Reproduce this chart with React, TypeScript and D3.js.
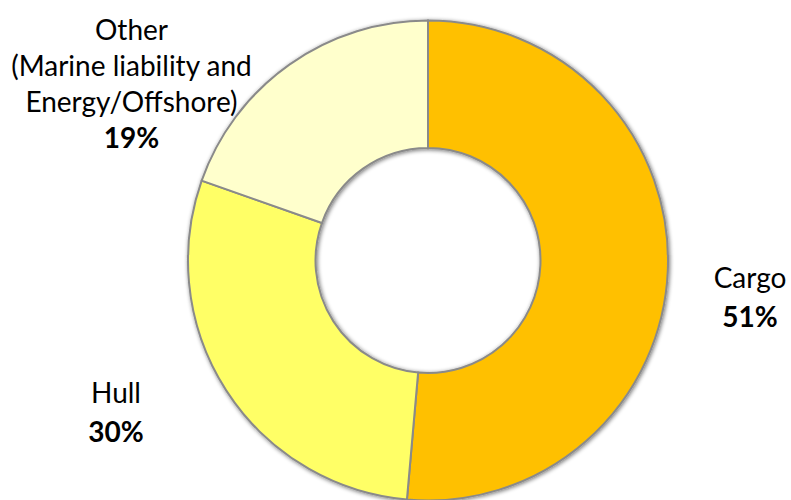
import React from "react";
import * as d3 from "d3";

const categories = ["Cargo", "Hull", "Other"];
const values = [51.4, 29.0, 19.6];
const percentLabels = ["51%", "30%", "19%"];
const nameLines = [["Cargo"], ["Hull"], ["Other", "(Marine liability and", "Energy/Offshore)"]];
const colors = ["#FFC000", "#FFFF66", "#FFFFCC"];

const W = 791;
const H = 500;
const cx = 428;
const cy = 260.5;
const outerR = 240;
const innerR = 112.5;

// label anchor (center x, baseline of first line, line spacing)
const labelLayout = [
  { x: 750, y: 288, dy: 39 },
  { x: 116, y: 403, dy: 39 },
  { x: 131.5, y: 40, dy: 36 },
];

export default function App() {
  const data = categories.map((c, i) => ({ c, v: values[i], i }));
  const pie = d3.pie<any>().value((d) => d.v).sort(null).startAngle(0).endAngle(2 * Math.PI);
  const arcs = pie(data);
  const arc = d3.arc<any>().innerRadius(innerR).outerRadius(outerR);
  const font = "Lato, 'Open Sans', sans-serif";
  return (
    <svg width={W} height={H} style={{ position: "absolute", left: 0, top: 0, background: "#fff" }}>
      <defs>
        <filter id="sh" x="-20%" y="-20%" width="140%" height="140%">
          <feGaussianBlur in="SourceAlpha" stdDeviation="2.2" />
          <feOffset dx="0.5" dy="0.5" result="b" />
          <feComponentTransfer>
            <feFuncA type="linear" slope="0.55" />
          </feComponentTransfer>
          <feMerge>
            <feMergeNode />
            <feMergeNode in="SourceGraphic" />
          </feMerge>
        </filter>
      </defs>
      <g transform={`translate(${cx},${cy})`} filter="url(#sh)">
        {arcs.map((a, i) => (
          <path key={i} d={arc(a) as string} fill={colors[i]} stroke="#8a8a8a" strokeWidth={2} />
        ))}
      </g>
      {labelLayout.map((l, i) => {
        const lines = nameLines[i];
        return (
          <g key={i} fontFamily={font} fontSize={28} fill="#000" textAnchor="middle">
            {lines.map((t, j) => (
              <text key={j} x={l.x} y={l.y + j * l.dy}>
                {t}
              </text>
            ))}
            <text x={l.x} y={l.y + lines.length * l.dy} fontWeight="bold">
              {percentLabels[i]}
            </text>
          </g>
        );
      })}
    </svg>
  );
}
